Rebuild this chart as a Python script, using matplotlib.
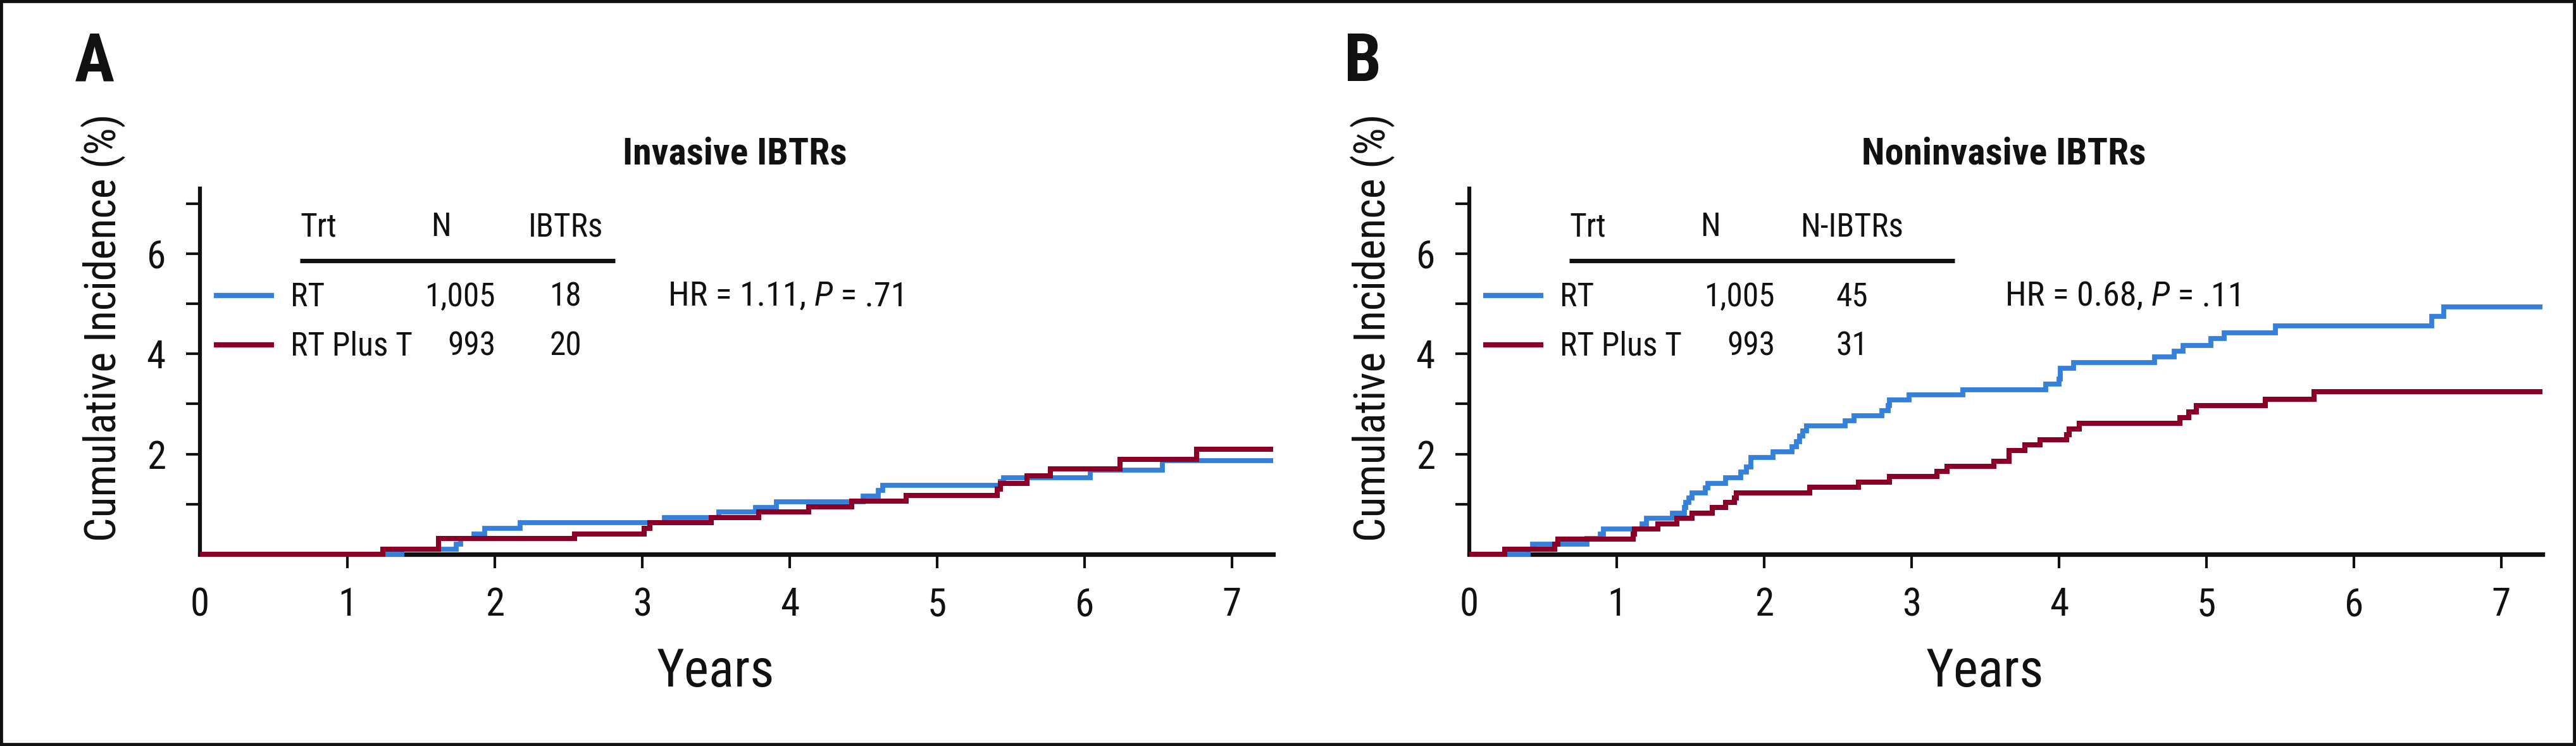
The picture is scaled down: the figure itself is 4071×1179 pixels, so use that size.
import os
import matplotlib
matplotlib.use('Agg')
import matplotlib.pyplot as plt
from matplotlib import font_manager
from matplotlib.font_manager import FontProperties
from matplotlib.patches import Rectangle
from matplotlib.lines import Line2D

W, H = 4071, 1179

BLUE = '#3580D8'
RED = '#8A0026'
INK = '#111111'

# panel A - invasive IBTRs (years, cumulative incidence %)
a_rt_years = [0, 1.37, 1.74, 1.77, 1.86, 1.93, 2.17, 3.15, 3.52, 3.77, 3.91, 4.50,
              4.60, 4.63, 5.43, 5.45, 6.04, 6.53, 7.28]
a_rt_inc = [0, 0.10, 0.20, 0.31, 0.41, 0.52, 0.63, 0.73, 0.84, 0.94, 1.05, 1.16,
            1.27, 1.38, 1.45, 1.53, 1.68, 1.87, 1.87]
a_rtt_years = [0, 1.24, 1.62, 2.54, 3.015, 3.05, 3.47, 3.79, 4.13, 4.42, 4.79, 5.41,
               5.43, 5.61, 5.77, 6.24, 6.76, 7.28]
a_rtt_inc = [0, 0.10, 0.31, 0.41, 0.52, 0.63, 0.73, 0.84, 0.95, 1.06, 1.17, 1.30,
             1.42, 1.57, 1.71, 1.89, 2.10, 2.10]

# panel B - noninvasive IBTRs
b_rt_years = [0, 0.40, 0.43, 0.80, 0.89, 0.91, 1.17, 1.20, 1.38, 1.46, 1.47, 1.49,
              1.51, 1.60, 1.62, 1.74, 1.84, 1.88, 1.91, 2.06, 2.19, 2.22, 2.24, 2.26,
              2.29, 2.55, 2.61, 2.80, 2.84, 2.85, 2.985, 3.35, 3.91, 4.00, 4.01, 4.10,
              4.65, 4.78, 4.84, 5.03, 5.12, 5.47, 6.53, 6.61, 7.28]
b_rt_inc = [0, 0.10, 0.20, 0.31, 0.41, 0.51, 0.61, 0.72, 0.82, 0.93, 1.03, 1.13,
            1.23, 1.33, 1.42, 1.53, 1.64, 1.74, 1.93, 2.04, 2.15, 2.25, 2.36, 2.46,
            2.56, 2.66, 2.76, 2.87, 2.97, 3.08, 3.18, 3.29, 3.40, 3.50, 3.71, 3.83,
            3.94, 4.05, 4.17, 4.31, 4.42, 4.56, 4.75, 4.94, 4.94]
b_rtt_years = [0, 0.24, 0.58, 0.60, 1.11, 1.12, 1.28, 1.41, 1.51, 1.65, 1.74, 1.80,
               1.81, 2.31, 2.64, 2.85, 3.17, 3.24, 3.56, 3.66, 3.77, 3.87, 4.05, 4.07,
               4.14, 4.82, 4.88, 4.93, 5.40, 5.73, 7.28]
b_rtt_inc = [0, 0.10, 0.20, 0.30, 0.41, 0.51, 0.61, 0.72, 0.82, 0.93, 1.03, 1.13,
             1.23, 1.34, 1.44, 1.55, 1.65, 1.76, 1.86, 2.07, 2.18, 2.28, 2.39, 2.50,
             2.61, 2.73, 2.84, 2.97, 3.10, 3.25, 3.25]

trt = ['RT', 'RT Plus T']
n_pts = ['1,005', '993']
events_a = ['18', '20']
events_b = ['45', '31']
hr_a, p_a = '1.11', '.71'
hr_b, p_b = '0.68', '.11'


# look for a condensed / narrow sans face, the original uses Helvetica Condensed
def pick_faces():
    prefs = ['liberation sans narrow', 'roboto condensed', 'noto sans', 'open sans',
             'dejavu sans', 'lato', 'inter']
    found = {}
    for f in font_manager.fontManager.ttflist:
        base = os.path.basename(f.fname).lower()
        if not ('condensed' in base or 'narrow' in base):
            continue
        if any(k in base for k in ['semi', 'extra', 'ultra', 'light', 'thin', 'medium', 'black']):
            continue
        fam = f.name.lower()
        rank = next((i for i, p in enumerate(prefs) if fam.startswith(p)), len(prefs))
        kind = None
        if f.style == 'normal' and f.weight in (400, 'normal', 'regular', 'book'):
            kind = 'reg'
        elif f.style == 'normal' and f.weight in (700, 'bold'):
            kind = 'bold'
        elif f.style in ('italic', 'oblique') and f.weight in (400, 'normal', 'regular', 'book'):
            kind = 'it'
        if kind:
            found.setdefault(rank, {}).setdefault(kind, f.fname)
    for rank in sorted(found):
        if 'reg' in found[rank]:
            return found[rank]
    return {}


FACES = pick_faces()


def fp(kind, size):
    if kind in FACES:
        return FontProperties(fname=FACES[kind], size=size)
    if 'reg' in FACES and kind == 'bold':
        return FontProperties(fname=FACES['reg'], size=size, weight='bold')
    return FontProperties(family='Liberation Sans', size=size,
                          weight='bold' if kind == 'bold' else 'normal',
                          style='italic' if kind == 'it' else 'normal')


def fx(x):
    return x / W


def fy(y):
    return 1 - y / H


fig = plt.figure(figsize=(W / 100, H / 100), dpi=100)
fig.patch.set_facecolor('white')
fig.patches.append(Rectangle((0, 0), 1, 1, transform=fig.transFigure, fill=False,
                             edgecolor=INK, linewidth=7))
renderer = fig.canvas.get_renderer()


def put(x, y, s, size, kind='reg', **kw):
    kw.setdefault('va', 'baseline')
    kw.setdefault('color', INK)
    return fig.text(fx(x), fy(y), s, fontproperties=fp(kind, size), **kw)


def panel(x0, letter, title, ev_head, events, hr, p, rt_t, rt_v, rtt_t, rtt_v):
    ax = fig.add_axes([fx(x0), fy(876), 1696 / W, 578 / H])
    ax.set_xlim(0, 7.28)
    ax.set_ylim(0, 7.3)
    ax.patch.set_alpha(0)
    for s in ['top', 'right']:
        ax.spines[s].set_visible(False)
    ax.spines['left'].set_linewidth(4.5)
    ax.spines['bottom'].set_linewidth(5.2)
    ax.spines['left'].set_color(INK)
    ax.spines['bottom'].set_color(INK)

    ax.step(rt_t, rt_v, where='post', color=BLUE, lw=5.6, zorder=3, clip_on=False,
            solid_joinstyle='miter', solid_capstyle='butt')
    ax.step(rtt_t, rtt_v, where='post', color=RED, lw=5.8, zorder=4, clip_on=False,
            solid_joinstyle='miter', solid_capstyle='butt')

    ax.set_xticks(range(8))
    ax.set_xticklabels([str(i) for i in range(8)], fontproperties=fp('reg', 44))
    ax.set_yticks([2, 4, 6])
    ax.set_yticklabels(['2', '4', '6'], fontproperties=fp('reg', 44))
    ax.set_yticks([1, 3, 5, 7], minor=True)
    ax.tick_params(axis='both', which='both', direction='out', length=16, width=3,
                   color=INK, labelcolor=INK)
    ax.tick_params(axis='x', pad=21)
    ax.tick_params(axis='y', pad=23)
    ax.xaxis.get_major_ticks()[0].tick1line.set_visible(False)

    put(x0 - 198, 128, letter, 76, 'bold', ha='left')
    put(x0 + 845, 260, title, 43, 'bold', ha='center')
    put(x0 + 815, 1085, 'Years', 60, ha='center')

    # y label, sized so it runs from about y=180 to y=857 like the original
    yl = put(x0 - 153, 518, 'Cumulative Incidence (%)', 46, rotation=90,
             ha='center', va='center')
    ext = yl.get_window_extent(renderer)
    size = min(54, 46 * 675 / ext.height)
    yl.set_fontproperties(fp('reg', size))

    # risk table
    wide = ev_head != 'IBTRs'
    ev_x = x0 + (605 if wide else 578)
    put(x0 + 158, 373, 'Trt', 37, ha='left')
    put(x0 + 381, 373, 'N', 37, ha='center')
    put(ev_x, 373, ev_head, 37, ha='center')
    rule_end = x0 + (767 if wide else 656)
    fig.add_artist(Line2D([fx(x0 + 158), fx(rule_end)], [fy(412), fy(412)],
                          color=INK, lw=5, solid_capstyle='butt'))
    for i, (name, n, ev, col) in enumerate(zip(trt, n_pts, events, [BLUE, RED])):
        base = 484 + 78 * i
        fig.add_artist(Line2D([fx(x0 + 22), fx(x0 + 117)], [fy(base - 17), fy(base - 17)],
                              color=col, lw=6, solid_capstyle='butt'))
        put(x0 + 143, base, name, 37, ha='left')
        put(x0 + 468 + (16 if wide else 0), base, n, 37, ha='right')
        put(ev_x, base, ev, 37, ha='center')

    # HR text with italic P, pieced together
    hx = x0 + (847 if wide else 740)
    for s, kind in [('HR = ' + hr + ', ', 'reg'), ('P', 'it'), (' = ' + p, 'reg')]:
        t = put(hx, 483, s, 39, kind, ha='left')
        hx += t.get_window_extent(renderer).width
    return ax


panel(316, 'A', 'Invasive IBTRs', 'IBTRs', events_a, hr_a, p_a,
      a_rt_years, a_rt_inc, a_rtt_years, a_rtt_inc)
panel(2322, 'B', 'Noninvasive IBTRs', 'N-IBTRs', events_b, hr_b, p_b,
      b_rt_years, b_rt_inc, b_rtt_years, b_rtt_inc)

fig.savefig('out.png', dpi=100, facecolor='white')
